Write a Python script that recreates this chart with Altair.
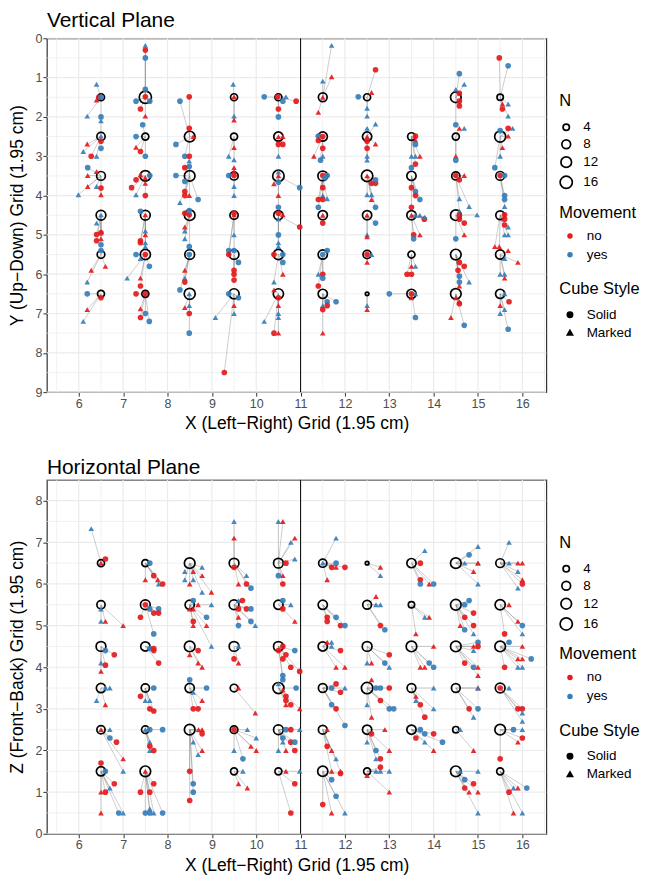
import altair as alt
import pandas as pd

FONT = "Liberation Sans"
X_TITLE = "X (Left\u2212Right) Grid (1.95 cm)"
V_Y_TITLE = "Y (Up\u2212Down) Grid (1.95 cm)"
H_Y_TITLE = "Z (Front\u2212Back) Grid (1.95 cm)"

X_TICKS = [6, 7, 8, 9, 10, 11, 12, 13, 14, 15, 16]
X_GRID = [5.5, 6, 6.5, 7, 7.5, 8, 8.5, 9, 9.5, 10, 10.5, 11, 11.5, 12, 12.5,
          13, 13.5, 14, 14.5, 15, 15.5, 16, 16.5]
V_Y_TICKS = [0, 1, 2, 3, 4, 5, 6, 7, 8, 9]
V_Y_GRID = [0, 0.5, 1, 1.5, 2, 2.5, 3, 3.5, 4, 4.5, 5, 5.5, 6, 6.5, 7, 7.5, 8, 8.5, 9]
H_Y_TICKS = [0, 1, 2, 3, 4, 5, 6, 7, 8]
H_Y_GRID = [0, 0.5, 1, 1.5, 2, 2.5, 3, 3.5, 4, 4.5, 5, 5.5, 6, 6.5, 7, 7.5, 8, 8.5]

MOVE = {"n": "no", "y": "yes"}
STYLE = {"S": "Solid", "M": "Marked"}

# ---------------- Vertical plane ----------------
# targets: (x, y, N)
V_TARGETS = [
    (6.5, 1.5, 5), (6.5, 2.5, 7), (6.5, 3.5, 8), (6.5, 4.5, 10), (6.5, 5.5, 6), (6.5, 6.5, 5),
    (7.5, 1.5, 16), (7.5, 2.5, 5), (7.5, 3.5, 12), (7.5, 4.5, 10), (7.5, 5.5, 11), (7.5, 6.5, 5),
    (8.5, 2.5, 12), (8.5, 3.5, 12), (8.5, 4.5, 12), (8.5, 5.5, 10), (8.5, 6.5, 13),
    (9.5, 1.5, 5), (9.5, 2.5, 5), (9.5, 3.5, 7), (9.5, 4.5, 7), (9.5, 5.5, 10), (9.5, 6.5, 11),
    (10.5, 1.5, 5), (10.5, 2.5, 9), (10.5, 3.5, 14), (10.5, 4.5, 9), (10.5, 5.5, 11), (10.5, 6.5, 11),
    (11.5, 1.5, 8), (11.5, 2.5, 9), (11.5, 3.5, 10), (11.5, 4.5, 9), (11.5, 5.5, 9), (11.5, 6.5, 9),
    (12.5, 1.5, 5), (12.5, 2.5, 9), (12.5, 3.5, 14), (12.5, 4.5, 9), (12.5, 5.5, 7), (12.5, 6.5, 1),
    (13.5, 2.5, 6), (13.5, 3.5, 9), (13.5, 4.5, 9), (13.5, 5.5, 5), (13.5, 6.5, 9),
    (14.5, 1.5, 12), (14.5, 2.5, 5), (14.5, 3.5, 7), (14.5, 4.5, 12), (14.5, 5.5, 12), (14.5, 6.5, 12),
    (15.5, 1.5, 4), (15.5, 2.5, 13), (15.5, 3.5, 8), (15.5, 4.5, 8), (15.5, 5.5, 9), (15.5, 6.5, 9),
]

# responses per target: (x, y, movement, cube style)
V_RESP = {
    (6.5, 1.5): [(6.40, 1.17, "y", "M"), (6.40, 1.57, "n", "M"), (6.45, 1.50, "n", "S"), (6.50, 1.50, "y", "S"),
                 (6.19, 1.98, "y", "M"), (6.50, 2.00, "y", "S")],
    (6.5, 2.5): [(6.50, 2.10, "y", "M"), (6.50, 2.49, "y", "M"), (6.50, 2.62, "n", "S"), (6.50, 2.80, "y", "S"),
                 (6.19, 2.69, "n", "M"), (6.10, 2.88, "y", "M"), (6.28, 3.00, "n", "S"), (6.40, 3.00, "y", "M")],
    (6.5, 3.5): [(6.20, 3.29, "y", "S"), (6.20, 3.49, "n", "M"), (6.40, 3.39, "n", "M"), (6.20, 3.77, "n", "M"),
                 (6.40, 3.77, "y", "M"), (6.50, 3.81, "n", "S"), (5.99, 3.98, "y", "M"), (6.50, 3.98, "n", "M")],
    (6.5, 4.5): [(6.50, 4.49, "y", "M"), (6.40, 4.70, "y", "M"), (6.50, 4.91, "y", "M"), (6.40, 4.99, "n", "S"),
                 (6.50, 4.95, "n", "S"), (6.40, 5.15, "n", "S"), (6.50, 5.10, "n", "M"), (6.50, 5.25, "y", "S")],
    (6.5, 5.5): [(6.28, 5.90, "n", "M"), (6.60, 5.80, "n", "M"), (6.19, 6.20, "y", "M"), (6.50, 5.40, "y", "S")],
    (6.5, 6.5): [(6.19, 6.50, "y", "S"), (6.50, 6.60, "n", "S"), (6.19, 6.90, "n", "M"), (6.10, 7.20, "y", "M")],
    (7.5, 1.5): [(7.50, 0.18, "y", "M"), (7.50, 0.30, "n", "S"), (7.50, 0.50, "y", "S"), (7.50, 1.30, "y", "S"),
                 (7.50, 1.49, "n", "S"), (7.29, 1.60, "y", "S"), (7.60, 1.60, "y", "S"), (7.39, 1.80, "n", "S"),
                 (7.50, 1.98, "n", "M")],
    (7.5, 2.5): [(7.44, 2.20, "y", "S"), (7.29, 2.50, "y", "S"), (7.29, 2.77, "n", "M"), (7.39, 2.88, "n", "S"),
                 (7.50, 3.00, "y", "S")],
    (7.5, 3.5): [(7.39, 3.47, "n", "M"), (7.60, 3.49, "y", "S"), (7.29, 3.60, "n", "S"), (7.50, 3.69, "n", "M"),
                 (7.19, 3.80, "n", "S"), (7.29, 3.98, "y", "M"), (7.50, 4.00, "n", "S"), (7.50, 3.55, "n", "M")],
    (7.5, 4.5): [(7.39, 4.40, "y", "S"), (7.50, 4.49, "n", "M"), (7.50, 4.90, "y", "M"), (7.50, 5.00, "n", "M"),
                 (7.39, 5.20, "n", "S"), (7.39, 5.15, "n", "S"), (7.50, 5.20, "y", "M"), (7.50, 5.30, "y", "M")],
    (7.5, 5.5): [(7.29, 5.50, "y", "S"), (7.50, 5.50, "n", "S"), (7.39, 5.60, "y", "M"), (7.59, 5.80, "y", "S"),
                 (7.09, 6.10, "y", "M"), (7.39, 6.10, "n", "M"), (7.39, 6.30, "n", "S")],
    (7.5, 6.5): [(7.29, 6.50, "n", "S"), (7.50, 6.50, "n", "S"), (7.39, 6.88, "n", "M"), (7.50, 7.00, "y", "S"),
                 (7.39, 7.10, "n", "S"), (7.59, 7.20, "y", "S")],
    (8.5, 2.5): [(8.28, 1.60, "y", "S"), (8.49, 1.49, "n", "S"), (8.49, 2.29, "n", "S"), (8.58, 2.50, "n", "M"),
                 (8.19, 2.70, "y", "S"), (8.39, 3.00, "y", "S"), (8.49, 3.00, "n", "S")],
    (8.5, 3.5): [(8.49, 3.12, "y", "M"), (8.49, 3.26, "y", "S"), (8.39, 3.29, "n", "S"), (8.19, 3.49, "y", "S"),
                 (8.39, 3.64, "y", "S"), (8.39, 3.90, "n", "S"), (8.39, 4.00, "n", "S"), (8.49, 4.00, "n", "M"),
                 (8.28, 4.18, "y", "M"), (8.69, 4.10, "y", "S")],
    (8.5, 4.5): [(8.39, 4.45, "n", "S"), (8.49, 4.49, "n", "S"), (8.49, 4.38, "y", "S"), (8.39, 4.80, "n", "M"),
                 (8.39, 4.90, "y", "M"), (8.39, 5.10, "y", "M"), (8.49, 5.30, "y", "S")],
    (8.5, 5.5): [(8.49, 5.50, "y", "S"), (8.39, 5.90, "n", "M"), (8.39, 6.10, "y", "M"), (8.39, 6.20, "n", "S"),
                 (8.28, 6.40, "y", "S")],
    (8.5, 6.5): [(8.49, 6.50, "y", "M"), (8.49, 6.80, "y", "M"), (8.39, 6.85, "n", "M"), (8.49, 7.00, "n", "S"),
                 (8.49, 7.50, "y", "S")],
    (9.5, 1.5): [(9.48, 1.17, "y", "M"), (9.50, 1.49, "n", "M"), (9.50, 1.98, "y", "M"), (9.50, 2.08, "n", "M")],
    (9.5, 2.5): [(9.50, 2.78, "n", "M"), (9.38, 3.00, "y", "M"), (9.50, 3.09, "y", "M")],
    (9.5, 3.5): [(9.50, 3.29, "n", "M"), (9.50, 3.39, "n", "M"), (9.38, 3.49, "y", "S"), (9.50, 3.49, "n", "S"),
                 (9.50, 3.77, "y", "M"), (9.50, 4.00, "y", "M")],
    (9.5, 4.5): [(9.50, 4.45, "n", "S"), (9.50, 4.49, "n", "M"), (9.50, 5.00, "y", "M"), (9.38, 5.40, "y", "S"),
                 (9.38, 5.50, "n", "S"), (9.50, 5.40, "y", "S")],
    (9.5, 5.5): [(9.60, 5.70, "y", "S"), (9.50, 5.90, "n", "S"), (9.50, 6.00, "n", "S"), (9.50, 6.15, "n", "S")],
    (9.5, 6.5): [(9.38, 6.50, "y", "S"), (9.60, 6.60, "y", "S"), (9.50, 6.80, "n", "M"), (9.08, 7.10, "y", "M"),
                 (9.50, 7.00, "y", "M"), (9.28, 8.50, "n", "S")],
    (10.5, 1.5): [(10.18, 1.49, "y", "S"), (10.48, 1.49, "n", "S"), (10.60, 1.60, "y", "S"), (10.67, 1.49, "y", "M"),
                  (10.90, 1.60, "n", "S"), (10.50, 1.80, "n", "S"), (10.50, 2.00, "y", "S")],
    (10.5, 2.5): [(10.50, 2.50, "n", "M"), (10.60, 2.50, "n", "M"), (10.50, 2.70, "n", "S"), (10.60, 2.70, "n", "S"),
                  (10.50, 3.00, "y", "M")],
    (10.5, 3.5): [(10.50, 3.40, "y", "M"), (10.50, 3.50, "n", "M"), (10.40, 3.70, "n", "M"), (10.50, 3.66, "y", "S"),
                  (10.98, 3.80, "y", "S"), (10.50, 4.00, "n", "M"), (10.50, 4.30, "y", "S")],
    (10.5, 4.5): [(10.50, 4.45, "n", "S"), (10.60, 4.49, "n", "M"), (10.50, 4.60, "y", "M"), (10.98, 4.80, "n", "S"),
                  (10.50, 5.00, "y", "S"), (10.50, 5.20, "y", "M"), (10.50, 5.30, "y", "M")],
    (10.5, 5.5): [(10.40, 5.50, "n", "S"), (10.60, 5.50, "y", "S"), (10.60, 5.70, "y", "S"), (10.60, 6.00, "n", "M"),
                  (10.40, 6.20, "y", "M")],
    (10.5, 6.5): [(10.40, 6.40, "n", "M"), (10.50, 6.60, "n", "S"), (10.50, 6.80, "n", "M"), (10.50, 7.00, "y", "M"),
                  (10.50, 7.10, "y", "M"), (10.18, 7.20, "y", "M"), (10.40, 7.50, "n", "S"), (10.50, 7.50, "n", "M")],
    (11.5, 1.5): [(11.70, 0.18, "y", "M"), (11.70, 0.98, "n", "M"), (11.50, 1.09, "y", "M"), (11.50, 1.50, "n", "M"),
                  (11.40, 1.88, "n", "M")],
    (11.5, 2.5): [(11.40, 2.49, "y", "S"), (11.50, 2.50, "n", "S"), (11.40, 2.60, "n", "S"), (11.50, 2.80, "n", "S"),
                  (11.30, 3.00, "n", "M"), (11.50, 3.00, "y", "M"), (11.45, 3.10, "y", "S")],
    (11.5, 3.5): [(11.60, 3.49, "y", "S"), (11.50, 3.49, "n", "S"), (11.55, 3.55, "y", "S"), (11.50, 3.80, "n", "S"),
                  (11.50, 4.00, "y", "M"), (11.50, 4.10, "n", "S"), (11.40, 4.10, "n", "S"), (11.60, 4.08, "y", "M"),
                  (11.40, 4.30, "y", "S")],
    (11.5, 4.5): [(11.50, 4.50, "n", "M"), (11.50, 4.70, "n", "S")],
    (11.5, 5.5): [(11.50, 5.50, "y", "S"), (11.60, 5.40, "y", "S"), (11.40, 6.00, "y", "M"), (11.50, 6.00, "n", "S"),
                  (11.50, 6.10, "y", "S"), (11.40, 6.30, "n", "S")],
    (11.5, 6.5): [(11.60, 6.70, "y", "S"), (11.60, 6.80, "n", "S"), (11.80, 6.70, "y", "S"), (11.50, 6.80, "y", "M"),
                  (11.50, 6.90, "n", "S"), (11.50, 7.50, "n", "M")],
    (12.5, 1.5): [(12.69, 0.80, "n", "S"), (12.60, 1.38, "n", "M"), (12.30, 1.49, "y", "S"), (12.50, 1.78, "y", "M"),
                  (12.50, 1.98, "y", "M")],
    (12.5, 2.5): [(12.69, 2.18, "y", "M"), (12.50, 2.29, "y", "M"), (12.50, 2.50, "n", "M"), (12.50, 2.62, "n", "S"),
                  (12.69, 2.69, "n", "M"), (12.50, 2.80, "n", "S"), (12.50, 3.00, "y", "M"), (12.50, 3.10, "y", "M")],
    (12.5, 3.5): [(12.50, 3.50, "n", "M"), (12.60, 3.69, "n", "S"), (12.69, 3.69, "n", "S"), (12.69, 3.60, "y", "S"),
                  (12.50, 3.98, "y", "M"), (12.60, 3.98, "y", "M"), (12.60, 4.10, "n", "M"), (12.69, 4.30, "y", "S")],
    (12.5, 4.5): [(12.50, 4.50, "n", "M"), (12.69, 4.70, "y", "S"), (12.50, 5.00, "y", "M"), (12.50, 5.05, "n", "M")],
    (12.5, 5.5): [(12.50, 5.50, "n", "S"), (12.60, 5.50, "y", "M"), (12.50, 5.70, "n", "M")],
    (12.5, 6.5): [(12.50, 6.80, "y", "M"), (12.50, 6.90, "n", "M")],
    (13.5, 2.5): [(13.59, 2.49, "n", "S"), (13.59, 2.59, "n", "M"), (13.59, 2.70, "y", "S"), (13.50, 3.00, "y", "M"),
                  (13.59, 3.00, "y", "M"), (13.69, 3.00, "n", "M"), (13.59, 3.20, "n", "S"), (13.50, 3.29, "y", "S")],
    (13.5, 3.5): [(13.50, 3.80, "n", "S"), (13.59, 3.90, "y", "S"), (13.59, 4.00, "n", "S"), (13.69, 4.10, "y", "S"),
                  (13.50, 4.30, "n", "S")],
    (13.5, 4.5): [(13.50, 4.50, "n", "M"), (13.69, 4.50, "y", "M"), (13.59, 4.50, "y", "M"), (13.79, 4.60, "n", "S"),
                  (13.80, 4.55, "y", "M"), (13.55, 5.00, "n", "S"), (13.55, 5.10, "y", "S"), (13.69, 5.00, "n", "M")],
    (13.5, 5.5): [(13.50, 5.80, "n", "M"), (13.59, 5.80, "y", "M"), (13.40, 6.00, "n", "S"), (13.50, 6.00, "n", "S")],
    (13.5, 6.5): [(13.50, 6.50, "n", "S"), (13.59, 6.50, "y", "M"), (13.50, 6.60, "n", "M"), (13.00, 6.50, "y", "S"),
                  (13.59, 7.10, "y", "S")],
    (14.5, 1.5): [(14.58, 0.90, "y", "S"), (14.69, 1.17, "y", "M"), (14.50, 1.30, "y", "M"), (14.58, 1.40, "n", "S"),
                  (14.58, 1.60, "n", "S"), (14.58, 1.72, "n", "S"), (14.50, 2.20, "y", "S")],
    (14.5, 2.5): [(14.58, 2.29, "n", "M"), (14.69, 2.29, "y", "M"), (14.50, 3.00, "n", "M"), (14.50, 3.10, "y", "S")],
    (14.5, 3.5): [(14.50, 3.49, "n", "S"), (14.69, 3.49, "n", "M"), (14.58, 3.60, "n", "S"), (14.58, 4.08, "y", "M"),
                  (14.80, 4.28, "y", "M"), (14.58, 4.40, "y", "M")],
    (14.5, 4.5): [(14.58, 4.50, "n", "S"), (14.98, 4.49, "y", "M"), (14.58, 4.60, "n", "S"), (14.69, 4.70, "n", "S"),
                  (14.50, 5.10, "y", "S"), (14.69, 5.00, "n", "M")],
    (14.5, 5.5): [(14.58, 5.70, "n", "S"), (14.55, 5.90, "n", "S"), (14.69, 5.80, "n", "S"), (14.58, 6.05, "y", "S"),
                  (14.58, 6.20, "y", "S"), (14.80, 6.20, "y", "M"), (14.58, 6.30, "n", "M")],
    (14.5, 6.5): [(14.50, 6.60, "n", "M"), (14.58, 6.70, "n", "M"), (14.58, 6.75, "n", "S"), (14.39, 7.10, "n", "M"),
                  (14.69, 7.30, "y", "S")],
    (15.5, 1.5): [(15.48, 0.50, "n", "S"), (15.68, 0.70, "y", "S"), (15.55, 1.67, "n", "M"), (15.68, 1.67, "y", "M"),
                  (15.55, 1.80, "n", "S"), (15.68, 1.98, "y", "M")],
    (15.5, 2.5): [(15.78, 2.29, "y", "M"), (15.68, 2.29, "n", "S"), (15.50, 2.35, "y", "S"), (15.68, 2.49, "n", "M"),
                  (15.55, 2.78, "n", "M"), (15.50, 3.00, "y", "M"), (15.38, 3.29, "y", "S")],
    (15.5, 3.5): [(15.50, 3.49, "n", "S"), (15.60, 3.49, "y", "S"), (15.60, 4.00, "y", "S"), (15.60, 4.10, "y", "S"),
                  (15.60, 4.28, "y", "M")],
    (15.5, 4.5): [(15.60, 4.49, "n", "S"), (15.60, 4.60, "n", "S"), (15.60, 4.75, "n", "S"), (15.68, 4.80, "y", "M"),
                  (15.60, 5.00, "y", "M"), (15.68, 5.00, "y", "M"), (15.38, 5.30, "n", "M"), (15.48, 5.30, "n", "M")],
    (15.5, 5.5): [(15.68, 5.40, "n", "M"), (15.60, 5.60, "y", "M"), (15.90, 5.70, "n", "M"), (15.50, 6.00, "y", "M"),
                  (15.60, 6.00, "y", "M"), (15.60, 6.10, "n", "M")],
    (15.5, 6.5): [(15.60, 6.50, "y", "M"), (15.70, 6.70, "n", "S"), (15.50, 6.80, "n", "M"), (15.60, 6.90, "y", "M"),
                  (15.50, 7.00, "y", "M"), (15.68, 7.40, "y", "S")],
}

# ---------------- Horizontal plane ----------------
H_TARGETS = [
    (6.5, 6.5, 5), (6.5, 5.5, 7), (6.5, 4.5, 10), (6.5, 3.5, 9), (6.5, 2.5, 7), (6.5, 1.5, 9),
    (7.5, 6.5, 5), (7.5, 5.5, 10), (7.5, 4.5, 9), (7.5, 3.5, 7), (7.5, 2.5, 6), (7.5, 1.5, 12),
    (8.5, 6.5, 12), (8.5, 5.5, 9), (8.5, 4.5, 12), (8.5, 3.5, 9), (8.5, 2.5, 12),
    (9.5, 6.5, 10), (9.5, 5.5, 10), (9.5, 4.5, 10), (9.5, 3.5, 6), (9.5, 2.5, 6), (9.5, 1.5, 5),
    (10.5, 6.5, 10), (10.5, 5.5, 9), (10.5, 4.5, 10), (10.5, 3.5, 13), (10.5, 2.5, 10), (10.5, 1.5, 5),
    (11.5, 6.5, 7), (11.5, 5.5, 9), (11.5, 4.5, 9), (11.5, 3.5, 8), (11.5, 2.5, 8), (11.5, 1.5, 11),
    (12.5, 6.5, 1), (12.5, 5.5, 8), (12.5, 4.5, 10), (12.5, 3.5, 14), (12.5, 2.5, 9), (12.5, 1.5, 5),
    (13.5, 6.5, 9), (13.5, 5.5, 4), (13.5, 4.5, 12), (13.5, 3.5, 8), (13.5, 2.5, 9),
    (14.5, 6.5, 12), (14.5, 5.5, 12), (14.5, 4.5, 12), (14.5, 3.5, 8), (14.5, 2.5, 4), (14.5, 1.5, 12),
    (15.5, 6.5, 8), (15.5, 5.5, 11), (15.5, 4.5, 12), (15.5, 3.5, 10), (15.5, 2.5, 12), (15.5, 1.5, 5),
]

H_RESP = {
    (6.5, 6.5): [(6.28, 7.33, "y", "M"), (6.60, 6.60, "n", "S"), (6.50, 6.50, "n", "M")],
    (6.5, 5.5): [(6.50, 5.40, "y", "M"), (6.50, 5.10, "y", "M"), (6.60, 5.10, "n", "M"), (7.00, 5.00, "n", "M")],
    (6.5, 4.5): [(6.60, 4.40, "y", "S"), (6.80, 4.30, "n", "S"), (6.50, 4.10, "y", "M"), (6.60, 4.05, "n", "S"),
                 (6.50, 3.90, "n", "M")],
    (6.5, 3.5): [(6.60, 3.50, "y", "M"), (6.70, 3.50, "y", "M"), (6.40, 3.20, "y", "M"), (6.60, 3.10, "n", "M")],
    (6.5, 2.5): [(6.50, 2.50, "n", "M"), (6.70, 2.50, "y", "M"), (6.70, 2.30, "y", "S"), (6.85, 2.20, "n", "S"),
                 (7.00, 1.80, "n", "M"), (7.00, 1.50, "y", "M")],
    (6.5, 1.5): [(6.50, 1.70, "n", "S"), (6.60, 1.50, "y", "S"), (6.80, 1.20, "n", "S"), (6.70, 1.10, "y", "M"),
                 (6.50, 1.00, "n", "M"), (6.60, 1.00, "n", "S"), (6.50, 0.50, "n", "M"), (6.90, 0.50, "y", "S"),
                 (7.00, 0.50, "y", "M")],
    (7.5, 6.5): [(7.60, 6.50, "y", "S"), (7.50, 6.10, "n", "M"), (7.69, 6.20, "n", "S"), (7.78, 6.10, "n", "M"),
                 (7.80, 6.00, "y", "M"), (7.89, 6.00, "n", "S")],
    (7.5, 5.5): [(7.50, 5.50, "n", "S"), (7.80, 5.40, "y", "S"), (7.60, 5.40, "y", "S"), (7.69, 5.30, "n", "S"),
                 (7.80, 5.30, "n", "S"), (7.39, 5.20, "n", "S"), (7.69, 4.80, "y", "S")],
    (7.5, 4.5): [(7.69, 4.40, "n", "S"), (7.60, 4.45, "y", "S"), (7.80, 4.10, "n", "S"), (7.69, 4.45, "n", "S")],
    (7.5, 3.5): [(7.69, 3.50, "y", "S"), (7.39, 3.30, "n", "S"), (7.50, 3.20, "y", "M"), (7.60, 3.20, "y", "M"),
                 (7.60, 3.00, "n", "S"), (7.69, 2.95, "n", "S")],
    (7.5, 2.5): [(7.50, 2.50, "y", "M"), (7.60, 2.50, "y", "S"), (7.89, 2.50, "y", "S"), (7.60, 2.20, "y", "M"),
                 (7.60, 2.10, "n", "S"), (7.60, 2.00, "y", "M"), (7.69, 2.00, "n", "S")],
    (7.5, 1.5): [(7.50, 1.50, "n", "M"), (7.69, 1.20, "n", "S"), (7.39, 1.00, "n", "S"), (7.60, 1.00, "n", "S"),
                 (7.50, 0.50, "y", "S"), (7.60, 0.60, "y", "M"), (7.69, 0.50, "y", "M"), (7.89, 0.50, "y", "S"),
                 (7.60, 0.50, "y", "S")],
    (8.5, 6.5): [(8.39, 6.30, "y", "M"), (8.78, 6.40, "y", "M"), (8.58, 6.30, "n", "M"), (8.78, 6.20, "n", "M"),
                 (8.39, 6.10, "y", "M"), (8.58, 6.10, "y", "M"), (8.50, 6.00, "n", "M"), (8.99, 5.80, "n", "M"),
                 (8.78, 5.80, "y", "M")],
    (8.5, 5.5): [(8.58, 5.60, "y", "S"), (8.50, 5.40, "n", "M"), (8.58, 5.40, "n", "M"), (8.69, 5.50, "n", "M"),
                 (8.99, 5.50, "y", "M"), (8.88, 5.20, "y", "S"), (8.58, 5.10, "n", "S"), (8.88, 5.00, "n", "M"),
                 (8.58, 5.00, "n", "M"), (8.99, 4.50, "y", "M")],
    (8.5, 4.5): [(8.69, 4.40, "n", "S"), (8.50, 4.30, "n", "M"), (8.69, 4.10, "n", "M"), (8.78, 4.00, "n", "M")],
    (8.5, 3.5): [(8.50, 3.70, "y", "S"), (8.58, 3.40, "y", "M"), (8.88, 3.50, "y", "S"), (8.58, 3.00, "n", "S"),
                 (8.69, 3.00, "n", "S"), (8.78, 3.20, "n", "M")],
    (8.5, 2.5): [(8.70, 2.50, "n", "M"), (8.78, 2.50, "n", "M"), (8.78, 2.40, "n", "S"), (8.58, 2.20, "y", "M"),
                 (8.78, 2.00, "n", "M"), (8.69, 1.90, "y", "M"), (8.50, 1.50, "n", "S"), (8.58, 1.20, "y", "S"),
                 (8.58, 1.00, "y", "S"), (8.50, 0.80, "n", "S")],
    (9.5, 6.5): [(9.50, 7.50, "y", "M"), (9.50, 7.10, "n", "M"), (9.50, 6.40, "n", "S"), (9.78, 6.20, "y", "M"),
                 (9.60, 6.00, "n", "M"), (9.78, 6.00, "n", "S"), (9.88, 5.90, "y", "S")],
    (9.5, 5.5): [(9.60, 5.60, "y", "M"), (9.69, 5.60, "n", "S"), (9.60, 5.40, "n", "S"), (9.78, 5.40, "n", "S"),
                 (9.88, 5.40, "y", "S"), (9.60, 5.20, "n", "M"), (9.60, 5.00, "y", "S"), (9.88, 5.10, "y", "S"),
                 (9.98, 5.00, "y", "M")],
    (9.5, 4.5): [(9.60, 4.50, "y", "M"), (9.50, 4.20, "n", "S"), (9.60, 4.10, "n", "M")],
    (9.5, 3.5): [(9.60, 3.50, "n", "M"), (9.98, 2.90, "n", "M")],
    (9.5, 2.5): [(9.50, 2.50, "n", "S"), (9.80, 2.50, "y", "M"), (10.00, 2.30, "y", "M"), (9.88, 2.10, "n", "M"),
                 (10.00, 2.00, "n", "M"), (9.50, 2.00, "y", "M"), (9.70, 1.80, "y", "S")],
    (9.5, 1.5): [(9.70, 1.50, "y", "M"), (9.60, 1.20, "n", "M"), (9.80, 1.10, "n", "M")],
    (10.5, 6.5): [(10.50, 7.50, "y", "M"), (10.60, 7.50, "n", "M"), (10.78, 7.00, "y", "M"), (10.87, 7.10, "n", "M"),
                  (10.87, 6.60, "y", "M"), (10.67, 6.50, "n", "S"), (10.50, 6.20, "y", "S"), (10.60, 6.20, "n", "M"),
                  (10.60, 6.00, "n", "S")],
    (10.5, 5.5): [(10.60, 5.60, "y", "S"), (10.60, 5.40, "n", "S"), (10.78, 5.50, "y", "M"), (10.87, 5.10, "n", "M")],
    (10.5, 4.5): [(10.50, 4.40, "n", "S"), (10.67, 4.30, "n", "S"), (10.87, 4.40, "y", "S"), (10.60, 4.50, "n", "S"),
                  (10.60, 4.20, "n", "S"), (10.78, 4.00, "n", "S"), (10.98, 3.90, "n", "S"), (10.60, 3.80, "y", "S"),
                  (10.60, 3.70, "y", "S")],
    (10.5, 3.5): [(10.50, 3.60, "y", "M"), (10.60, 3.45, "n", "M"), (10.67, 3.30, "n", "S"), (10.67, 3.20, "n", "S"),
                  (10.67, 3.10, "n", "M"), (10.78, 3.10, "n", "S"), (10.98, 3.00, "n", "M"), (10.90, 3.50, "y", "S")],
    (10.5, 2.5): [(10.67, 2.50, "y", "S"), (10.78, 2.50, "n", "S"), (10.60, 2.30, "y", "S"), (10.60, 2.20, "y", "M"),
                  (10.78, 2.20, "n", "S"), (10.87, 2.20, "y", "S"), (10.67, 2.00, "n", "M"), (10.50, 2.00, "y", "M"),
                  (10.87, 2.00, "n", "S"), (10.98, 2.50, "y", "M")],
    (10.5, 1.5): [(10.67, 1.50, "n", "M"), (10.87, 1.20, "n", "S"), (10.78, 0.50, "n", "S"), (10.98, 1.50, "y", "M")],
    (11.5, 6.5): [(11.80, 7.10, "y", "M"), (11.50, 6.50, "y", "M"), (11.80, 6.50, "y", "S"), (11.70, 6.40, "n", "S"),
                  (11.80, 6.40, "n", "M"), (12.00, 6.40, "n", "S"), (11.60, 6.10, "n", "M")],
    (11.5, 5.5): [(11.60, 5.20, "n", "S"), (11.60, 5.10, "n", "S"), (11.80, 5.20, "y", "S"), (11.90, 5.00, "n", "S"),
                  (12.00, 5.00, "y", "S")],
    (11.5, 4.5): [(11.60, 4.60, "n", "M"), (11.70, 4.60, "y", "M"), (11.70, 4.50, "y", "M"), (11.90, 4.40, "n", "S"),
                  (11.80, 4.00, "n", "M"), (12.00, 4.00, "n", "M")],
    (11.5, 3.5): [(11.70, 3.50, "y", "S"), (11.80, 3.60, "n", "S"), (11.90, 3.40, "n", "S"), (12.00, 3.50, "y", "M"),
                  (11.70, 3.10, "y", "S"), (11.80, 3.00, "n", "S"), (12.00, 2.60, "y", "S")],
    (11.5, 2.5): [(11.60, 2.50, "n", "M"), (11.60, 2.10, "n", "S"), (11.70, 2.00, "n", "M"), (11.80, 1.80, "y", "M"),
                  (11.70, 1.50, "n", "M"), (11.90, 1.50, "n", "M")],
    (11.5, 1.5): [(11.90, 1.45, "n", "S"), (11.70, 1.30, "y", "S"), (11.80, 0.90, "y", "S"), (11.50, 0.70, "n", "S"),
                  (11.70, 0.50, "n", "M"), (12.00, 0.50, "y", "M")],
    (12.5, 6.5): [(12.80, 6.40, "n", "M"), (12.80, 6.20, "y", "M")],
    (12.5, 5.5): [(12.70, 5.70, "n", "M"), (12.70, 5.50, "y", "M"), (12.80, 5.50, "y", "M"), (12.80, 5.00, "n", "S"),
                  (12.90, 4.90, "y", "S")],
    (12.5, 4.5): [(13.00, 4.30, "n", "S"), (12.50, 4.10, "y", "M"), (12.60, 4.10, "n", "M"), (12.90, 4.10, "y", "S"),
                  (13.00, 4.00, "y", "M")],
    (12.5, 3.5): [(12.60, 3.70, "n", "M"), (12.70, 3.50, "y", "S"), (12.80, 3.50, "y", "S"), (13.00, 3.50, "n", "S"),
                  (12.50, 3.10, "y", "M"), (12.80, 3.20, "n", "S"), (13.00, 3.00, "y", "S"), (13.10, 3.00, "y", "S"),
                  (12.60, 2.80, "n", "M")],
    (12.5, 2.5): [(12.60, 2.40, "n", "S"), (12.50, 2.20, "y", "M"), (12.90, 2.50, "n", "M"), (13.00, 2.00, "n", "M"),
                  (12.70, 2.00, "y", "S"), (12.80, 1.80, "n", "S"), (12.70, 1.80, "y", "M")],
    (12.5, 1.5): [(12.50, 1.40, "n", "M"), (12.70, 1.50, "y", "M"), (12.80, 1.50, "y", "M"), (13.00, 1.50, "y", "M"),
                  (12.80, 1.60, "n", "S"), (13.00, 1.00, "n", "M")],
    (13.5, 6.5): [(13.80, 6.80, "y", "M"), (13.70, 6.50, "n", "S"), (13.70, 6.10, "n", "S"), (13.70, 6.00, "y", "S"),
                  (13.90, 6.00, "n", "M"), (14.00, 6.00, "y", "S")],
    (13.5, 5.5): [(13.80, 5.20, "y", "M"), (13.90, 5.20, "n", "M"), (13.60, 4.80, "n", "M")],
    (13.5, 4.5): [(14.00, 4.50, "n", "M"), (13.70, 4.00, "n", "M"), (13.80, 4.00, "n", "M"), (13.90, 4.10, "y", "S"),
                  (14.00, 4.00, "y", "S")],
    (13.5, 3.5): [(14.00, 3.50, "y", "M"), (13.60, 3.30, "n", "M"), (13.60, 3.20, "y", "M"), (13.70, 3.10, "n", "S"),
                  (14.00, 3.00, "y", "M"), (13.80, 2.80, "n", "S")],
    (13.5, 2.5): [(13.70, 2.50, "y", "S"), (13.80, 2.40, "y", "S"), (13.60, 2.30, "n", "S"), (14.00, 2.40, "n", "S"),
                  (13.80, 2.20, "y", "M"), (14.20, 2.20, "y", "S"), (14.00, 2.00, "n", "M")],
    (14.5, 6.5): [(15.00, 6.90, "y", "M"), (14.80, 6.70, "y", "S"), (14.70, 6.50, "y", "M"), (15.00, 6.50, "y", "M"),
                  (15.00, 6.50, "n", "M"), (14.90, 6.30, "n", "M"), (15.00, 6.00, "y", "M")],
    (14.5, 5.5): [(14.70, 5.50, "y", "S"), (14.80, 5.60, "y", "S"), (14.70, 5.20, "n", "S"), (14.90, 5.30, "n", "S"),
                  (14.60, 5.00, "n", "M"), (14.90, 5.00, "n", "S"), (14.70, 4.90, "y", "S"), (14.90, 4.80, "y", "M")],
    (14.5, 4.5): [(15.00, 4.60, "y", "S"), (14.90, 4.50, "n", "M"), (15.00, 4.50, "n", "S"), (14.90, 4.40, "y", "M"),
                  (14.70, 4.10, "n", "S"), (14.90, 4.00, "y", "S"), (15.00, 4.00, "n", "M"), (15.00, 3.80, "n", "M")],
    (14.5, 3.5): [(15.00, 3.50, "n", "M"), (15.00, 3.50, "y", "M"), (14.80, 3.00, "n", "S"), (15.00, 3.00, "y", "S"),
                  (14.90, 2.80, "y", "M")],
    (14.5, 2.5): [(14.60, 2.50, "y", "M"), (14.90, 2.00, "n", "M")],
    (14.5, 1.5): [(14.60, 1.50, "y", "M"), (15.00, 1.50, "y", "M"), (14.70, 1.30, "y", "S"), (14.90, 1.20, "n", "S"),
                  (14.70, 1.10, "n", "S"), (14.80, 1.00, "n", "M"), (15.00, 1.00, "n", "M"), (15.00, 0.50, "y", "M")],
    (15.5, 6.5): [(15.70, 7.00, "y", "M"), (15.70, 6.50, "y", "M"), (15.90, 6.50, "n", "M"), (16.00, 6.50, "n", "M"),
                  (15.90, 6.30, "y", "M"), (16.00, 6.10, "n", "M"), (16.00, 6.00, "n", "S"), (15.90, 5.90, "y", "M")],
    (15.5, 5.5): [(15.70, 5.50, "n", "M"), (15.90, 5.10, "n", "M"), (16.00, 5.00, "y", "S"), (15.60, 4.80, "n", "S"),
                  (16.00, 4.80, "y", "M")],
    (15.5, 4.5): [(15.70, 4.60, "y", "S"), (16.00, 4.50, "n", "M"), (16.20, 4.20, "y", "S"), (15.90, 4.20, "n", "M"),
                  (16.00, 4.20, "n", "M"), (15.60, 4.00, "n", "S"), (15.90, 4.00, "y", "M"), (16.00, 4.00, "y", "M")],
    (15.5, 3.5): [(15.70, 3.50, "y", "M"), (15.50, 3.50, "n", "S"), (15.90, 3.00, "n", "S"), (16.00, 3.00, "n", "S"),
                  (16.00, 2.90, "y", "M"), (16.00, 2.70, "y", "M")],
    (15.5, 2.5): [(15.80, 2.50, "y", "S"), (16.00, 2.50, "y", "M"), (16.00, 2.30, "n", "S"), (15.90, 2.20, "n", "M"),
                  (15.50, 1.80, "n", "S")],
    (15.5, 1.5): [(15.80, 1.10, "y", "M"), (15.90, 1.10, "n", "M"), (16.10, 1.10, "y", "S"), (15.70, 1.00, "n", "S"),
                  (15.80, 0.50, "n", "M"), (16.00, 0.50, "y", "M")],
}


def resp_frame(resp):
    rows = []
    for (tx, ty), pts in resp.items():
        for (x, y, m, s) in pts:
            rows.append({"tx": tx, "ty": ty, "x": x, "y": y,
                         "Movement": MOVE[m], "Cube Style": STYLE[s]})
    return pd.DataFrame(rows)


def make_panel(title, targets, resp, ydom, yrev, ytitle, yticks, ygrid):
    xs = alt.Scale(domain=[5.28, 16.54], nice=False, zero=False)
    ys = alt.Scale(domain=ydom, nice=False, zero=False, reverse=yrev)
    xaxis = alt.Axis(values=X_TICKS, title=X_TITLE, grid=False, domain=False, titlePadding=5)
    yaxis = alt.Axis(values=yticks, title=ytitle, grid=False, domain=False, titlePadding=8)

    def X(f):
        return alt.X(f, type="quantitative", scale=xs, axis=xaxis)

    def Y(f):
        return alt.Y(f, type="quantitative", scale=ys, axis=yaxis)

    gx = pd.DataFrame({"v": X_GRID, "w": [1.2 if v % 1 == 0 else 0.7 for v in X_GRID]})
    gy = pd.DataFrame({"v": ygrid, "w": [1.2 if v % 1 == 0 else 0.7 for v in ygrid]})
    grid_x = alt.Chart(gx).mark_rule(color="#EBEBEB").encode(
        x=X("v"), strokeWidth=alt.StrokeWidth("w:Q", scale=None))
    grid_y = alt.Chart(gy).mark_rule(color="#EBEBEB").encode(
        y=Y("v"), strokeWidth=alt.StrokeWidth("w:Q", scale=None))
    vline = alt.Chart(pd.DataFrame({"v": [11]})).mark_rule(
        color="black", strokeWidth=1).encode(x=X("v"))

    rdf = resp_frame(resp)
    tdf = pd.DataFrame(targets, columns=["x", "y", "N"])

    segs = alt.Chart(rdf).mark_rule(color="#777777", strokeWidth=0.6, opacity=0.6).encode(
        x=X("x"), y=Y("y"), x2="tx:Q", y2="ty:Q")

    tg = alt.Chart(tdf).mark_point(shape="circle", filled=False, color="black",
                                   strokeWidth=1.7, opacity=1).encode(
        x=X("x"), y=Y("y"),
        size=alt.Size("N:Q", scale=alt.Scale(domain=[0, 16], range=[4, 150], zero=False),
                      legend=alt.Legend(title="N", values=[4, 8, 12, 16], orient="none",
                                        legendX=514, legendY=55, titlePadding=11,
                                        symbolStrokeColor="black", symbolStrokeWidth=1.7,
                                        symbolFillColor="transparent", rowPadding=1)))

    pts = alt.Chart(rdf).mark_point(filled=True, size=32, opacity=0.92).encode(
        x=X("x"), y=Y("y"),
        color=alt.Color("Movement:N",
                        scale=alt.Scale(domain=["no", "yes"], range=["#E41A1C", "#377EB8"]),
                        legend=alt.Legend(title="Movement", orient="none", legendX=514, legendY=167,
                                          symbolType="circle", symbolSize=30, symbolOpacity=1,
                                          symbolOffset=4, rowPadding=4)),
        shape=alt.Shape("Cube Style:N",
                        scale=alt.Scale(domain=["Solid", "Marked"], range=["circle", "triangle-up"]),
                        legend=alt.Legend(title="Cube Style", orient="none", legendX=514, legendY=244,
                                          titlePadding=10,
                                          symbolFillColor="black", symbolStrokeColor="black",
                                          symbolSize=30, symbolOpacity=1, symbolOffset=4, rowPadding=3)))

    return alt.layer(grid_x, grid_y, vline, segs, tg, pts).properties(
        width=501, height=355,
        title=alt.TitleParams(title, anchor="start", frame="group", fontSize=21,
                              fontWeight="normal", font=FONT, color="black", offset=1))


top = make_panel("Vertical Plane", V_TARGETS, V_RESP, [0, 9], True, V_Y_TITLE, V_Y_TICKS, V_Y_GRID)
bottom = make_panel("Horizontal Plane", H_TARGETS, H_RESP, [0, 8.5], False, H_Y_TITLE, H_Y_TICKS, H_Y_GRID)

chart = alt.vconcat(top, bottom, spacing=23).resolve_scale(
    x="independent", y="independent", size="independent", color="independent", shape="independent"
).resolve_legend(
    size="independent", color="independent", shape="independent"
).configure(
    font=FONT, padding={"left": 0, "top": 0, "right": 0, "bottom": 0}
).configure_view(
    stroke="#333333", strokeWidth=1.2
).configure_axis(
    labelFont=FONT, titleFont=FONT, labelFontSize=12.5, labelColor="#4D4D4D",
    titleFontSize=17.5, titleFontWeight="normal", titleColor="black",
    tickColor="#333333", tickSize=4, labelPadding=1
).configure_legend(
    titleFont=FONT, labelFont=FONT, titleFontSize=16.5, titleFontWeight="normal", titleColor="black",
    labelFontSize=13.5, labelColor="black", titlePadding=8, labelOffset=10
)

chart.save("out.html", embed_options={"renderer": "svg", "actions": False})
